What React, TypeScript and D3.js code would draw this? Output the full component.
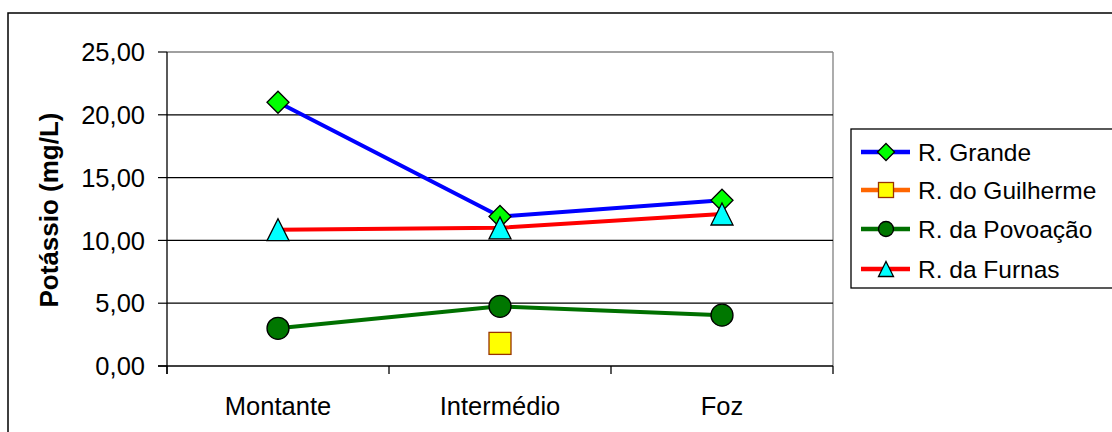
import React from "react";
import * as d3 from "d3";

const categories = ["Montante", "Intermédio", "Foz"];
const grande = [21.0, 11.9, 13.2];
const guilherme: (number | null)[] = [null, 1.8, null];
const povoacao = [3.0, 4.75, 4.05];
const furnas = [10.85, 11.0, 12.1];
const yTicks = [0, 5, 10, 15, 20, 25];
const yTitle = "Potássio (mg/L)";

type Series = {
  name: string;
  values: (number | null)[];
  line: string;
  lineWidth: number;
  marker: "diamond" | "square" | "circle" | "triangle";
  fill: string;
  stroke: string;
};

const series: Series[] = [
  { name: "R. Grande", values: grande, line: "#0000FF", lineWidth: 4, marker: "diamond", fill: "#00FF00", stroke: "#000" },
  { name: "R. do Guilherme", values: guilherme, line: "#FF6600", lineWidth: 4, marker: "square", fill: "#FFFF00", stroke: "#993300" },
  { name: "R. da Povoação", values: povoacao, line: "#007000", lineWidth: 4, marker: "circle", fill: "#007700", stroke: "#000" },
  { name: "R. da Furnas", values: furnas, line: "#FF0000", lineWidth: 4, marker: "triangle", fill: "#00FFFF", stroke: "#000" },
];

const locale = d3.formatLocale({ decimal: ",", thousands: ".", grouping: [3], currency: ["", ""] });
const fmt = locale.format(".2f");

function Marker({ kind, x, y, size, fill, stroke }: { kind: string; x: number; y: number; size: number; fill: string; stroke: string }) {
  const h = size / 2;
  if (kind === "diamond") {
    return <path d={`M${x},${y - h}L${x + h},${y}L${x},${y + h}L${x - h},${y}Z`} fill={fill} stroke={stroke} strokeWidth={1.3} />;
  }
  if (kind === "square") {
    return <rect x={x - h} y={y - h} width={size} height={size} fill={fill} stroke={stroke} strokeWidth={1.3} />;
  }
  if (kind === "circle") {
    return <circle cx={x} cy={y} r={h} fill={fill} stroke={stroke} strokeWidth={1.3} />;
  }
  return <path d={`M${x},${y - h}L${x + h},${y + h}L${x - h},${y + h}Z`} fill={fill} stroke={stroke} strokeWidth={1.3} />;
}

export default function App() {
  const left = 167, right = 833, top = 52, bottom = 366;
  const x = d3.scaleBand<string>().domain(categories).range([left, right]);
  const cx = (c: string) => (x(c) as number) + x.bandwidth() / 2;
  const y = d3.scaleLinear().domain([0, 25]).range([bottom, top]);
  const font = "Arial, 'Liberation Sans', sans-serif";

  const lineGen = d3
    .line<{ c: string; v: number | null }>()
    .defined((d) => d.v !== null)
    .x((d) => cx(d.c))
    .y((d) => y(d.v as number));

  const legendX = 851, legendY = 129;
  const legendRows = [152, 190, 229, 269];

  return (
    <svg width={1112} height={432} style={{ position: "absolute", left: 0, top: 0, background: "#fff" }} fontFamily={font}>
      <rect x={0} y={0} width={1112} height={432} fill="#fff" />
      {/* outer chart border */}
      <rect x={8} y={13} width={1120} height={440} fill="none" stroke="#000" strokeWidth={1.5} />

      {/* plot frame */}
      <line x1={left} x2={right} y1={top} y2={top} stroke="#808080" strokeWidth={1.3} />
      <line x1={right} x2={right} y1={top} y2={bottom} stroke="#808080" strokeWidth={1.3} />

      {/* gridlines and y ticks */}
      {yTicks.map((t) => (
        <g key={t}>
          {t > 0 && t < 25 && <line x1={left} x2={right} y1={y(t)} y2={y(t)} stroke="#000" strokeWidth={1.2} />}
          <line x1={158} x2={left} y1={y(t)} y2={y(t)} stroke="#000" strokeWidth={1.2} />
          <text x={145} y={y(t)} dy="0.36em" textAnchor="end" fontSize={25.5} fill="#000">
            {fmt(t)}
          </text>
        </g>
      ))}

      {/* axes */}
      <line x1={left} x2={left} y1={top} y2={bottom + 8} stroke="#000" strokeWidth={1.3} />
      <line x1={158} x2={right} y1={bottom} y2={bottom} stroke="#000" strokeWidth={1.3} />
      {categories.concat(["__end"]).map((c, i) => {
        const xx = i < categories.length ? (x(c) as number) : right;
        return <line key={c} x1={xx} x2={xx} y1={bottom} y2={bottom + 8} stroke="#000" strokeWidth={1.3} />;
      })}
      {categories.map((c) => (
        <text key={c} x={cx(c)} y={415} textAnchor="middle" fontSize={25.5} fill="#000">
          {c}
        </text>
      ))}

      {/* y title */}
      <text
        transform={`translate(58, ${(top + bottom) / 2 + 1}) rotate(-90)`}
        textAnchor="middle"
        fontSize={26}
        fontWeight="bold"
        fill="#000"
      >
        {yTitle}
      </text>

      {/* series */}
      {series.map((s) => {
        const pts = categories.map((c, i) => ({ c, v: s.values[i] }));
        return (
          <g key={s.name}>
            <path d={lineGen(pts) || ""} fill="none" stroke={s.line} strokeWidth={s.lineWidth} />
            {pts
              .filter((p) => p.v !== null)
              .map((p) => (
                <Marker key={p.c} kind={s.marker} x={cx(p.c)} y={y(p.v as number)} size={22} fill={s.fill} stroke={s.stroke} />
              ))}
          </g>
        );
      })}

      {/* legend */}
      <rect x={legendX} y={legendY} width={300} height={159} fill="#fff" stroke="#000" strokeWidth={1.3} />
      {series.map((s, i) => {
        const ly = legendRows[i];
        return (
          <g key={s.name}>
            <line x1={861} x2={910} y1={ly} y2={ly} stroke={s.line} strokeWidth={4.5} />
            <Marker kind={s.marker} x={886} y={ly} size={s.marker === "diamond" ? 17 : 15} fill={s.fill} stroke={s.stroke} />
            <text x={918} y={ly} dy="0.36em" fontSize={24.5} fill="#000">
              {s.name}
            </text>
          </g>
        );
      })}
    </svg>
  );
}
